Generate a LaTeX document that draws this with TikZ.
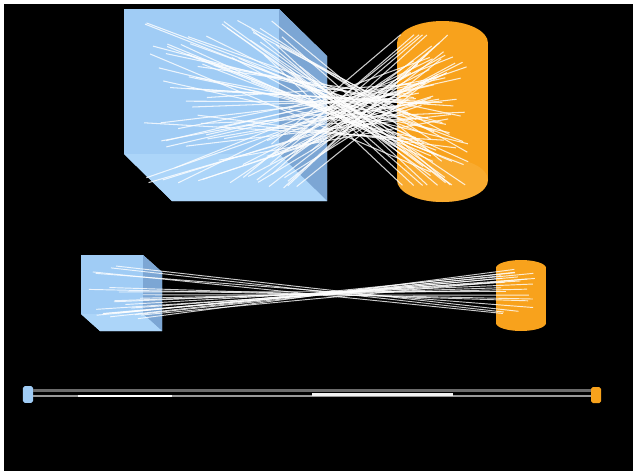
\documentclass[tikz,border=0pt]{standalone}
\usepackage{tikz}
\usetikzlibrary{backgrounds}
\definecolor{cubeblue}{RGB}{160,204,245}
\definecolor{cubeside}{RGB}{124,166,212}
\definecolor{cubebottom}{RGB}{172,213,249}
\definecolor{cylorange}{RGB}{248,162,28}
\definecolor{cyllight}{RGB}{251,182,72}
\definecolor{wiredim}{gray}{0.42}
\definecolor{wiremid}{gray}{0.6}

\begin{document}
\begin{tikzpicture}[x=0.03cm,y=-0.03cm,
    wire/.style={white, line width=0.9pt, opacity=0.8},
    flat/.style={line width=1.9pt}]
    \useasboundingbox (0,0) rectangle (633,471);
    \fill[white] (0,0) rectangle (633,471);
    \fill[black] (4,4) rectangle (633,471);
    % large cube
    \coordinate (p1) at (124,9);  \coordinate (p2) at (279,9);
    \coordinate (p3) at (327,56); \coordinate (p4) at (327,201);
    \coordinate (p5) at (172,201); \coordinate (p6) at (124,154);
    \coordinate (p7) at (279,154);
    \fill[cubeblue] (p1) -- (p2) -- (p3) -- (p4) -- (p5) -- (p6) -- cycle;
    \fill[cubeside] (p2) -- (p3) -- (p4) -- (p7) -- cycle;
    \fill[cubebottom] (p6) -- (p7) -- (p4) -- (p5) -- cycle;
    % large cylinder
    \fill[cylorange] (397,43) rectangle (488,180);
    \fill[cylorange] (442.5,43) ellipse [x radius=1.365cm, y radius=0.66cm];
    \fill[cylorange] (442.5,180) ellipse [x radius=1.365cm, y radius=0.66cm];
    \fill[cyllight, opacity=0.45] (442.5,180) ellipse [x radius=1.365cm, y radius=0.66cm];
    \pgfmathsetseed{5}
    \foreach \i in {1,...,95}{
        \pgfmathsetmacro\cx{350+18*rand}
        \pgfmathsetmacro\cy{112+25*rand}
        \pgfmathsetmacro\s{0.95*rand}
        \pgfmathsetmacro\hl{(\s>0)*(\cy-18)+(\s<=0)*(190-\cy)}
        \pgfmathsetmacro\hr{(\s>0)*(186-\cy)+(\s<=0)*(\cy-34)}
        \pgfmathsetmacro\dl{max(40,min(205,\hl/(abs(\s)+0.01)))}
        \pgfmathsetmacro\lx{\cx-35-(\dl-35)*sqrt(rnd)}
        \pgfmathsetmacro\rx{min(405+65*rnd,\cx+\hr/(abs(\s)+0.01))}
        \coordinate (l) at (\lx,{\cy+(\lx-\cx)*\s});
        \coordinate (r) at (\rx,{\cy+(\rx-\cx)*\s});
        \draw[wire] (l) -- (r);
    }
    % small cube
    \coordinate (q1) at (81,255);  \coordinate (q2) at (143,255);
    \coordinate (q3) at (162,272); \coordinate (q4) at (162,331);
    \coordinate (q5) at (100,331); \coordinate (q6) at (81,314);
    \coordinate (q7) at (143,314);
    \fill[cubeblue] (q1) -- (q2) -- (q3) -- (q4) -- (q5) -- (q6) -- cycle;
    \fill[cubeside] (q2) -- (q3) -- (q4) -- (q7) -- cycle;
    \fill[cubebottom] (q6) -- (q7) -- (q4) -- (q5) -- cycle;
    % small cylinder
    \fill[cylorange] (496,268) rectangle (546,323);
    \fill[cylorange] (521,268) ellipse [x radius=0.75cm, y radius=0.24cm];
    \fill[cylorange] (521,323) ellipse [x radius=0.75cm, y radius=0.24cm];
    \foreach \i in {1,...,22}{
        \pgfmathsetmacro\a{30*rand}
        \pgfmathsetmacro\ly{293+\a}
        \pgfmathsetmacro\lx{max(88+55*rnd,\ly-228)}
        \pgfmathsetmacro\rx{500+38*rnd}
        \pgfmathsetmacro\ry{293-\a*(0.7+0.25*rnd)+4*rand}
        \coordinate (l) at (\lx,\ly);
        \coordinate (r) at (\rx,\ry);
        \draw[wire, line width=0.8pt] (l) -- (r);
    }
    % flattened view
    \node[fill=cubeblue, rounded corners=1.5pt, inner sep=0pt, minimum width=0.3cm, minimum height=0.5cm] (cb) at (28,394.5) {};
    \node[fill=cylorange, rounded corners=1.5pt, inner sep=0pt, minimum width=0.3cm, minimum height=0.48cm] (cy) at (596,395) {};
    \coordinate (s1) at (33,390.5); \coordinate (e1) at (591,390.5);
    \coordinate (s2) at (33,396);   \coordinate (e2) at (591,396);
    \coordinate (w1) at (78,396);   \coordinate (w2) at (172,396);
    \coordinate (w3) at (312,394.5); \coordinate (w4) at (453,394.5);
    \draw[flat, wiredim] (s1) -- (e1);
    \draw[flat, wiremid] (s2) -- (e2);
    \draw[flat, white] (w1) -- (w2);
    \draw[flat, white!90!gray] (w3) -- (w4);
\end{tikzpicture}
\end{document}
